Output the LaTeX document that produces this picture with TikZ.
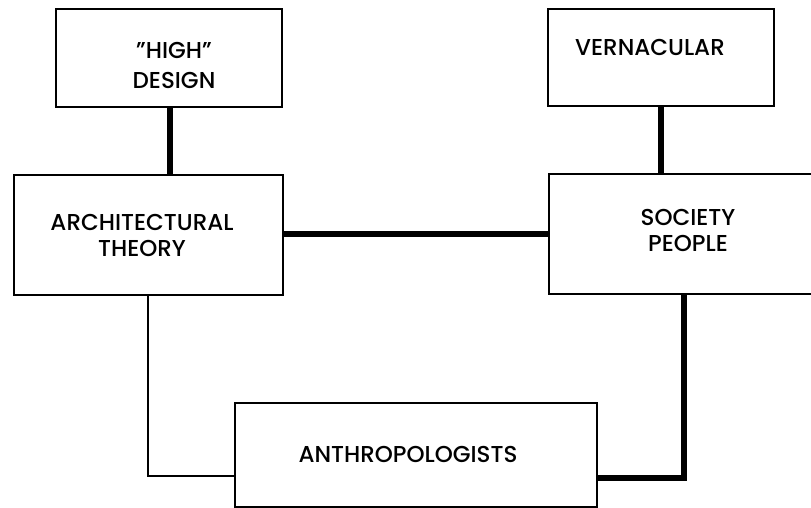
\documentclass[tikz,border=0pt]{standalone}
\usepackage{fontspec}
\setmainfont{Poppins}[UprightFont=* Medium]
\begin{document}
\begin{tikzpicture}[x=1pt,y=-1pt,
  boxshape/.style={draw=black, line width=1.3pt, rectangle, inner sep=0pt},
  lbl/.style={font=\fontsize{23}{26}\selectfont, align=center, inner sep=0pt, anchor=center},
  thickconn/.style={line width=5.5pt},
  thinconn/.style={line width=2.8pt}]
\useasboundingbox (0,0) rectangle (811,508);
% boxes
\node[boxshape, minimum width=226pt, minimum height=98pt] (high) at (169,58) {};
\node[boxshape, minimum width=269pt, minimum height=120pt] (arch) at (148.5,235) {};
\node[boxshape, minimum width=226pt, minimum height=97pt] (vern) at (661,57.5) {};
\node[boxshape, minimum width=300pt, minimum height=120pt] (soc) at (699,234) {};
\node[boxshape, minimum width=362pt, minimum height=104pt] (anth) at (416,455) {};
% labels
\node[lbl, font=\fontsize{23}{30}\selectfont] (thigh) at (174,65) {\symbol{34}HIGH\symbol{34}\\DESIGN};
\node[lbl] (tarch) at (142,235) {ARCHITECTURAL\\THEORY};
\node[lbl] (tvern) at (650,47) {VERNACULAR};
\node[lbl] (tsoc) at (688,230) {SOCIETY\\PEOPLE};
\node[lbl] (tanth) at (408,454) {ANTHROPOLOGISTS};
% connectors
\draw[thickconn] (high.south -| 170,0) -- (arch.north -| 170,0);
\draw[thickconn] (vern.south -| 661,0) -- (soc.north -| 661,0);
\draw[thickconn] (arch.east |- 0,234) -- (soc.west |- 0,234);
\coordinate (lc) at (148,476);
\coordinate (rc) at (684,478);
\draw[thinconn] (arch.south -| lc) -- (lc) -- (anth.west |- lc);
\draw[thickconn] (soc.south -| rc) -- (rc) -- (anth.east |- rc);
\end{tikzpicture}
\end{document}
